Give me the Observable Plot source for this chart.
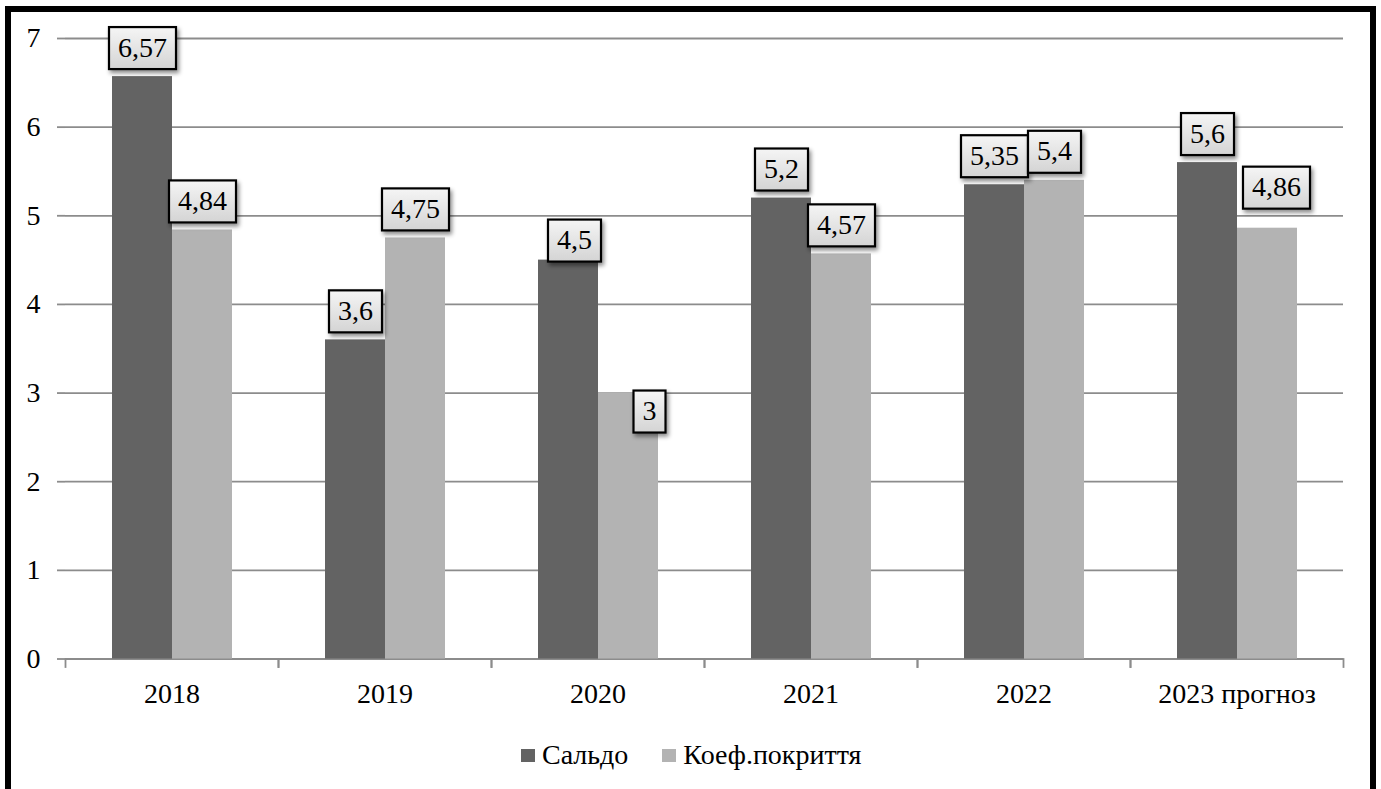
<!DOCTYPE html>
<html lang="uk">
<head>
<meta charset="utf-8">
<script src="https://cdn.jsdelivr.net/npm/d3@7"></script>
<script src="https://cdn.jsdelivr.net/npm/@observablehq/plot@0.6"></script>
<style>
  html, body { margin: 0; padding: 0; background: #fff; }
  body { width: 1381px; height: 789px; overflow: hidden; position: relative;
         font-family: "Liberation Serif", "Tinos", "DejaVu Serif", "Noto Serif", serif; }
  #border { position: absolute; left: 5px; top: 6px; width: 1359px; height: 820px;
            border: 6px solid #000; }
  #chart { position: absolute; left: 0; top: 0; }
  #chart svg, #chart svg text { font-family: "Liberation Serif", "Tinos", "DejaVu Serif", "Noto Serif", serif !important; }
  #legend { position: absolute; left: 521px; top: 738px; height: 34px;
            display: flex; align-items: center; font-size: 28px; color: #000; }
  #legend .item { display: flex; align-items: center; margin-right: 34px; }
  #legend .sw { width: 14px; height: 13px; margin-right: 7px; display: inline-block; }
</style>
</head>
<body>
<div id="border"></div>
<div id="chart"></div>
<div id="legend"></div>
<script>
// Years on the category axis and the two series
const years = ["2018", "2019", "2020", "2021", "2022", "2023 прогноз"];
const series = ["Сальдо", "Коеф.покриття"];
const saldo = [6.57, 3.6, 4.5, 5.2, 5.35, 5.6];
const coverage = [4.84, 4.75, 3, 4.57, 5.4, 4.86];
const yTicks = [0, 1, 2, 3, 4, 5, 6, 7];

const colors = ["#636363", "#b3b3b3"];
const gridColor = "#8c8c8c";
const font = "'Liberation Serif', 'Tinos', 'DejaVu Serif', serif";
const textSize = 28;

const rows = years.flatMap((year, i) => [
  {year, series: series[0], value: saldo[i]},
  {year, series: series[1], value: coverage[i]}
]);

// Label placement: centred above each bar, a few labels moved aside
const labelLift = -29;
const labelShift = {
  "2020|Сальдо": [6, 9],
  "2020|Коеф.покриття": [21, 47],
  "2023 прогноз|Коеф.покриття": [9, -12]
};
const shiftOf = d => labelShift[d.year + "|" + d.series] || [0, 0];
const shiftKeys = Array.from(new Set(rows.map(d => shiftOf(d).join(","))));
const fmt = d => String(d.value).replace(".", ",");

const width = 1381, height = 720;
const margin = {top: 38, right: 38, bottom: 61.5, left: 65};
const innerH = height - margin.top - margin.bottom;

const labelMarks = shiftKeys.map(key => {
  const [sx, sy] = key.split(",").map(Number);
  return Plot.text(rows.filter(d => shiftOf(d).join(",") === key), {
    fx: "year", x: "series", y: "value", text: fmt,
    dx: sx, dy: labelLift + sy,
    fontSize: textSize, fill: "#000", className: "vlabel"
  });
});

const chart = Plot.plot({
  width, height,
  marginTop: margin.top, marginRight: margin.right,
  marginBottom: margin.bottom, marginLeft: margin.left,
  style: {fontFamily: font, fontSize: textSize + "px", background: "transparent", color: "#000"},
  fx: {domain: years, padding: 0, label: null},
  x: {domain: series, paddingInner: 0, paddingOuter: 0.746, axis: null},
  y: {domain: [0, 7], label: null},
  color: {domain: series, range: colors},
  marks: [
    Plot.ruleY(yTicks, {stroke: gridColor, strokeWidth: 1.8}),
    Plot.axisY({ticks: yTicks, tickFormat: d => String(d), tickSize: 8, tickPadding: 17,
                fontSize: textSize, stroke: gridColor, strokeWidth: 1.8, line: true, label: null}),
    // short ticks between year groups, below the baseline
    Plot.frame({anchor: "left", stroke: gridColor, strokeWidth: 1.8,
                insetTop: innerH, insetBottom: -8}),
    Plot.frame({anchor: "right", stroke: gridColor, strokeWidth: 1.8,
                insetTop: innerH, insetBottom: -8}),
    Plot.axisFx({anchor: "bottom", tickSize: 0, tickPadding: 24, fontSize: textSize, label: null}),
    Plot.barY(rows, {fx: "year", x: "series", y: "value", fill: "series"}),
    ...labelMarks
  ]
});

document.getElementById("chart").appendChild(chart);

// Boxed value labels: gradient fill, black outline, soft drop shadow
const svg = d3.select(chart);
const defs = svg.insert("defs", ":first-child");
const grad = defs.append("linearGradient").attr("id", "boxFill")
  .attr("x1", 0).attr("y1", 0).attr("x2", 0).attr("y2", 1);
grad.append("stop").attr("offset", "0%").attr("stop-color", "#f5f5f5");
grad.append("stop").attr("offset", "100%").attr("stop-color", "#d4d4d4");
const shadow = defs.append("filter").attr("id", "boxShadow")
  .attr("x", "-30%").attr("y", "-30%").attr("width", "160%").attr("height", "160%");
shadow.append("feDropShadow").attr("dx", 2).attr("dy", 3)
  .attr("stdDeviation", 2).attr("flood-color", "#000").attr("flood-opacity", 0.45);

svg.selectAll("g.vlabel text").each(function () {
  const b = this.getBBox();
  const padX = 9, boxH = 42;
  const cy = b.y + b.height / 2 + 1;
  d3.select(this.parentNode).insert("rect", () => this)
    .attr("transform", this.getAttribute("transform"))
    .attr("x", b.x - padX).attr("y", cy - boxH / 2)
    .attr("width", b.width + 2 * padX).attr("height", boxH)
    .attr("fill", "url(#boxFill)").attr("stroke", "#000").attr("stroke-width", 2.2)
    .attr("filter", "url(#boxShadow)");
});

// Legend
const legend = d3.select("#legend");
series.forEach((name, i) => {
  const item = legend.append("div").attr("class", "item");
  item.append("span").attr("class", "sw").style("background", colors[i]);
  item.append("span").text(name);
});
</script>
</body>
</html>
